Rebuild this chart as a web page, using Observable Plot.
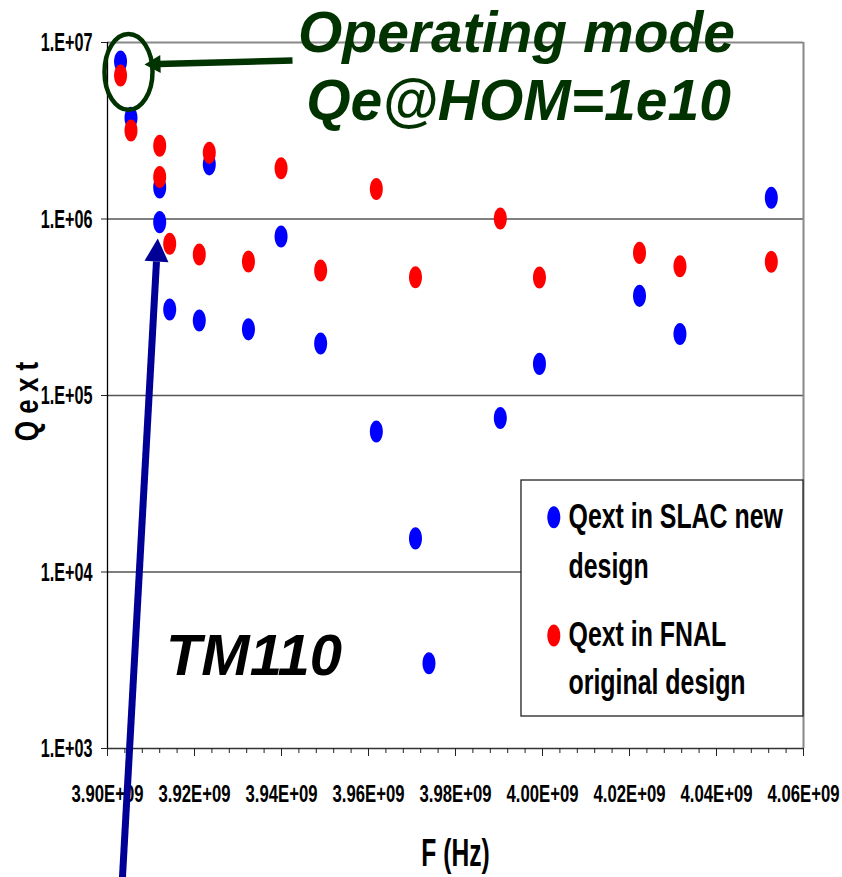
<!DOCTYPE html>
<html>
<head>
<meta charset="utf-8">
<script src="https://cdn.jsdelivr.net/npm/d3@7"></script>
<script src="https://cdn.jsdelivr.net/npm/@observablehq/plot@0.6"></script>
<style>
  html, body { margin: 0; padding: 0; background: white; }
</style>
</head>
<body>
<div id="chart"></div>
<script>
// ---------------- data ----------------
const slacFreq = [3.9030e9, 3.9054e9, 3.9120e9, 3.9120e9, 3.9143e9, 3.9211e9, 3.9234e9, 3.9324e9, 3.9399e9,
                  3.9490e9, 3.9618e9, 3.9708e9, 3.9739e9, 3.9903e9, 3.9993e9, 4.0223e9, 4.0316e9, 4.0526e9];
const slacQext = [7.8e6, 3.74e6, 1.51e6, 9.6e5, 3.07e5, 2.66e5, 2.04e6, 2.37e5, 7.96e5,
                  1.97e5, 6.25e4, 1.55e4, 3.04e3, 7.46e4, 1.51e5, 3.67e5, 2.23e5, 1.32e6];
const fnalFreq = [3.9030e9, 3.9054e9, 3.9120e9, 3.9120e9, 3.9143e9, 3.9211e9, 3.9234e9, 3.9324e9, 3.9399e9,
                  3.9490e9, 3.9618e9, 3.9708e9, 3.9903e9, 3.9993e9, 4.0223e9, 4.0316e9, 4.0526e9];
const fnalQext = [6.5e6, 3.17e6, 2.60e6, 1.73e6, 7.24e5, 6.29e5, 2.37e6, 5.74e5, 1.94e6,
                  5.11e5, 1.48e6, 4.68e5, 1.007e6, 4.66e5, 6.43e5, 5.40e5, 5.72e5];

const xTicks = [3.90e9, 3.92e9, 3.94e9, 3.96e9, 3.98e9, 4.00e9, 4.02e9, 4.04e9, 4.06e9];
const xMinorTicks = d3.range(0, 41).map(i => 3.90e9 + i * 4e6);
const yTicks = [1e3, 1e4, 1e5, 1e6, 1e7];
const gridLines = [1e4, 1e5, 1e6];

const seriesNames = ["Qext in SLAC new", "design", "Qext in FNAL", "original design"];
const xLabel = "F (Hz)";
const yLabel = "Q e x t";

// annotations (data coordinates)
const opTexts = [
  {x: 3.99402e9, y: 8.89e6, t: "Operating mode"},
  {x: 3.99448e9, y: 3.615e6, t: "Qe@HOM=1e10"}
];
const opEllipse = [{x: 3.90483e9, y: 6.81e6}];
const greenShaft = [{x1: 3.94253e9, y1: 7.91e6, x2: 3.91172e9, y2: 7.555e6}];
const greenHead = [{x: 3.91218e9, y: 7.555e6}];
const blueShaft = [{x1: 3.91126e9, y1: 5.743e5, x2: 3.90340e9, y2: 178.7}];
const blueHead = [{x: 3.91126e9, y: 5.743e5}];
const tmText = [{x: 3.93368e9, y: 2.592e3, t: "TM110"}];

// legend (data coordinates)
const legendBox = [{x1: 3.99517e9, x2: 4.06e9, y1: 1.518e3, y2: 3.299e4}];
const legendDots = [{x: 4.0026e9, y: 2.044e4, s: "SLAC"}, {x: 4.0026e9, y: 4.368e3, s: "FNAL"}];
const legendText = [
  {x: 4.00598e9, y: 1.764e4, t: seriesNames[0]},
  {x: 4.00598e9, y: 9.19e3, t: seriesNames[1]},
  {x: 4.00598e9, y: 3.833e3, t: seriesNames[2]},
  {x: 4.00598e9, y: 2.049e3, t: seriesNames[3]}
];

// ---------------- helpers ----------------
const slac = slacFreq.map((f, i) => ({f, q: slacQext[i]}));
const fnal = fnalFreq.map((f, i) => ({f, q: fnalQext[i]}));

function ellipseSymbol(aspect) {
  return {draw(ctx, size) {
    const rx = Math.sqrt(size / Math.PI), ry = rx * aspect, k = 0.5523;
    ctx.moveTo(rx, 0);
    ctx.bezierCurveTo(rx, k * ry, k * rx, ry, 0, ry);
    ctx.bezierCurveTo(-k * rx, ry, -rx, k * ry, -rx, 0);
    ctx.bezierCurveTo(-rx, -k * ry, -k * rx, -ry, 0, -ry);
    ctx.bezierCurveTo(k * rx, -ry, rx, -k * ry, rx, 0);
    ctx.closePath();
  }};
}
function headSymbol(len, width, angleDeg) {
  return {draw(ctx) {
    const a = angleDeg * Math.PI / 180, s = Math.sin(a), c = Math.cos(a), w = width / 2;
    ctx.moveTo(len * s, -len * c);
    ctx.lineTo(w * c, w * s);
    ctx.lineTo(-w * c, -w * s);
    ctx.closePath();
  }};
}

const SANS = "'Liberation Sans', Arial, sans-serif";
const GREEN = "#003300";
const NAVY = "#000096";
const dotSym = ellipseSymbol(1.7);

const fmtX = d => (d / 1e9).toFixed(2) + "E+09";
const fmtY = d => "1.E+0" + Math.round(Math.log10(d));

const plot = Plot.plot({
  width: 842,
  height: 877,
  marginLeft: 107,
  marginRight: 39,
  marginTop: 42,
  marginBottom: 129,
  style: {background: "white", fontFamily: SANS, color: "black", overflow: "visible"},
  x: {domain: [3.90e9, 4.06e9], label: null},
  y: {type: "log", domain: [1e3, 1e7], label: null},
  marks: [
    Plot.ruleY(gridLines, {stroke: "#555", strokeWidth: 1.3}),
    Plot.ruleY([1e7], {stroke: "#888", strokeWidth: 2}),
    Plot.ruleX([4.06e9], {stroke: "#888", strokeWidth: 2}),
    Plot.ruleX([3.90e9], {stroke: "black", strokeWidth: 1.3}),
    Plot.ruleY([1e3], {stroke: "#333", strokeWidth: 1.6}),
    Plot.axisX(xMinorTicks, {tickSize: 5, tickFormat: () => "", label: null, stroke: "#222"}),
    Plot.axisX(xTicks, {tickSize: 8, tickPadding: 29, tickFormat: fmtX, label: null,
      fontSize: 20, fontWeight: "bold", fontFamily: SANS, stroke: "#222"}),
    Plot.axisY(yTicks, {tickSize: 6, tickPadding: 9, tickFormat: fmtY, label: null,
      fontSize: 20, fontWeight: "bold", fontFamily: SANS, stroke: "#222"}),
    Plot.text([xLabel], {text: d => d, frameAnchor: "bottom", dy: 117, lineAnchor: "bottom",
      textAnchor: "middle", fontSize: 30, fontWeight: "bold", fontFamily: SANS}),
    Plot.text([yLabel], {text: d => d, frameAnchor: "left", dx: -80, dy: 6, rotate: -90,
      textAnchor: "middle", lineAnchor: "middle", fontSize: 26, fontWeight: "bold", fontFamily: SANS}),
    // legend box
    Plot.rect(legendBox, {x1: "x1", x2: "x2", y1: "y1", y2: "y2", fill: "white", stroke: "#222", strokeWidth: 1.3}),
    // data
    Plot.dot(slac, {x: "f", y: "q", r: 6.5, symbol: dotSym, fill: "#0000ff", stroke: "none"}),
    Plot.dot(fnal, {x: "f", y: "q", r: 6.5, symbol: dotSym, fill: "#ff0000", stroke: "none"}),
    // legend content
    Plot.dot(legendDots, {x: "x", y: "y", r: 6.5, symbol: dotSym, stroke: "none",
      fill: d => d.s === "SLAC" ? "#0000ff" : "#ff0000"}),
    Plot.text(legendText, {x: "x", y: "y", text: "t", textAnchor: "start", lineAnchor: "bottom",
      fontSize: 30, fontWeight: "bold", fontFamily: SANS}),
    // annotations
    Plot.dot(opEllipse, {x: "x", y: "y", r: 24, symbol: ellipseSymbol(1.58), fill: "none", stroke: GREEN, strokeWidth: 4.5}),
    Plot.link(greenShaft, {x1: "x1", y1: "y1", x2: "x2", y2: "y2", stroke: GREEN, strokeWidth: 6.5}),
    Plot.dot(greenHead, {x: "x", y: "y", r: 5, symbol: headSymbol(16, 18, -91.5), fill: GREEN, stroke: "none"}),
    Plot.text(opTexts, {x: "x", y: "y", text: "t", lineAnchor: "bottom", fontSize: 57, fontWeight: "bold",
      fontStyle: "italic", fontFamily: SANS, fill: GREEN}),
    Plot.link(blueShaft, {x1: "x1", y1: "y1", x2: "x2", y2: "y2", stroke: NAVY, strokeWidth: 7}),
    Plot.dot(blueHead, {x: "x", y: "y", r: 5, symbol: headSymbol(23, 24, 3.2), fill: NAVY, stroke: "none"}),
    Plot.text(tmText, {x: "x", y: "y", text: "t", lineAnchor: "bottom", fontSize: 58, fontWeight: "bold",
      fontStyle: "italic", fontFamily: SANS, fill: "black"})
  ]
});

// condensed, vertically stretched lettering like the original (Arial Narrow style)
function stretch(test, sx, sy) {
  d3.select(plot).selectAll("text").filter(function () { return test(this.textContent); }).each(function () {
    const t = this.getAttribute("transform") || "";
    this.setAttribute("transform", t + ` scale(${sx},${sy})`);
  });
}
stretch(s => /^1\.E\+0\d$/.test(s), 0.81, 1.33);
stretch(s => /^\d\.\d\dE\+09$/.test(s), 0.835, 1.19);
stretch(s => seriesNames.includes(s), 0.83, 1.16);
stretch(s => s === xLabel, 0.82, 1.3);
stretch(s => s === yLabel, 1, 1.3);

document.getElementById("chart").appendChild(plot);
</script>
</body>
</html>
